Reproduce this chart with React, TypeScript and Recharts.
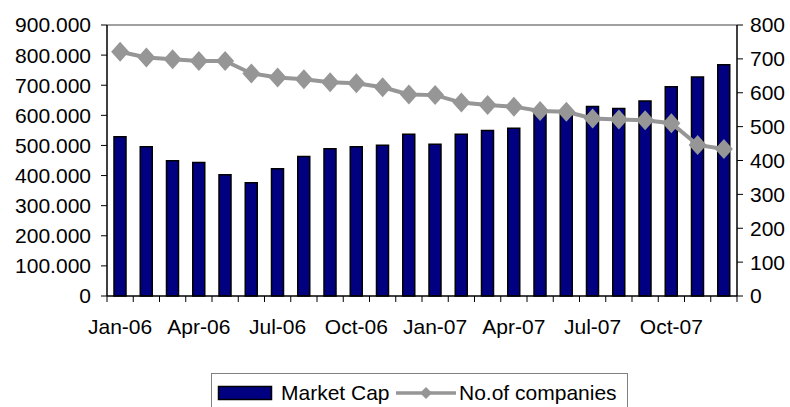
import React from "react";
import {
  ComposedChart,
  Bar,
  Line,
  XAxis,
  YAxis,
  Legend,
  ReferenceLine,
} from "recharts";

const months = [
  "Jan-06", "Feb-06", "Mar-06", "Apr-06", "May-06", "Jun-06",
  "Jul-06", "Aug-06", "Sep-06", "Oct-06", "Nov-06", "Dec-06",
  "Jan-07", "Feb-07", "Mar-07", "Apr-07", "May-07", "Jun-07",
  "Jul-07", "Aug-07", "Sep-07", "Oct-07", "Nov-07", "Dec-07",
];

const marketCap = [
  529, 496, 449, 443, 403, 376, 423, 463, 489, 496, 501, 537,
  504, 537, 550, 557, 605, 615, 629, 623, 648, 695, 727, 768,
];

const companies = [
  721, 704, 699, 694, 694, 657, 645, 640, 631, 628, 616, 595,
  593, 571, 564, 559, 546, 544, 524, 521, 519, 510, 446, 434,
];

const leftTicks = [0, 100, 200, 300, 400, 500, 600, 700, 800, 900];
const rightTicks = [0, 100, 200, 300, 400, 500, 600, 700, 800];

const FONT = "'Liberation Sans', Arial, sans-serif";
const NAVY = "#000080";
const GREY = "#969696";

const data = months.map((m, i) => ({
  month: m,
  marketCap: marketCap[i],
  companies: companies[i],
}));

const W = 790;
const H = 407;
const PLOT_LEFT = 107;
const PLOT_RIGHT = 737;
const BAND = (PLOT_RIGHT - PLOT_LEFT) / months.length;

function MonthTick(props: any) {
  const { x, y, payload } = props;
  const i = payload.index;
  const bx = x - BAND / 2;
  return (
    <g>
      <line x1={bx} y1={y} x2={bx} y2={y + 6} stroke="#000" />
      {i === months.length - 1 && (
        <line x1={x + BAND / 2} y1={y} x2={x + BAND / 2} y2={y + 6} stroke="#000" />
      )}
      {i % 3 === 0 && (
        <text
          x={x}
          y={y + 38}
          textAnchor="middle"
          fontFamily={FONT}
          fontSize={21}
          fill="#000"
        >
          {payload.value}
        </text>
      )}
    </g>
  );
}

const renderDiamond = (props: any) => {
  const { cx, cy, index } = props;
  if (cx == null || cy == null) return <g key={`d-${index}`} />;
  const rx = 9;
  const ry = 10;
  return (
    <polygon
      key={`d-${index}`}
      points={`${cx},${cy - ry} ${cx + rx},${cy} ${cx},${cy + ry} ${cx - rx},${cy}`}
      fill={GREY}
      stroke="none"
    />
  );
};

function ChartLegend() {
  return (
    <div
      style={{
        position: "absolute",
        left: 211,
        top: 373,
        width: 417,
        height: 40,
        boxSizing: "border-box",
        borderTop: "1.5px solid #808080",
        borderLeft: "1.5px solid #808080",
        borderRight: "1.5px solid #808080",
      }}
    >
      <svg width={417} height={40} style={{ position: "absolute", left: 0, top: 0 }}>
        <rect x={6.5} y={12.5} width={53} height={13} fill={NAVY} stroke="#000" strokeWidth={1.5} />
        <text x={69} y={26} fontFamily={FONT} fontSize={21} fill="#000">
          Market Cap
        </text>
        <line x1={184} y1={19} x2={244} y2={19} stroke={GREY} strokeWidth={3.5} />
        <polygon points="214,13 220,19 214,25 208,19" fill={GREY} />
        <text x={247} y={26} fontFamily={FONT} fontSize={21} fill="#000">
          No.of companies
        </text>
      </svg>
    </div>
  );
}

export default function App() {
  return (
    <div style={{ position: "absolute", left: 0, top: 0, width: W, height: H, background: "#fff" }}>
      <ComposedChart
        width={W}
        height={H}
        data={data}
        margin={{ top: 25, right: 0, left: 0, bottom: 0 }}
        barCategoryGap={0}
      >
        <XAxis
          dataKey="month"
          xAxisId="x"
          interval={0}
          height={111}
          axisLine={{ stroke: "#000", strokeWidth: 1.5 }}
          tickLine={false}
          tickSize={0}
          tickMargin={0}
          tick={<MonthTick />}
        />
        <YAxis
          yAxisId="left"
          orientation="left"
          width={PLOT_LEFT}
          domain={[0, 900]}
          ticks={leftTicks}
          interval={0}
          axisLine={{ stroke: "#000", strokeWidth: 1.5 }}
          tickLine={{ stroke: "#000" }}
          tickSize={6}
          tickMargin={10}
          tick={{ fontFamily: FONT, fontSize: 21, fill: "#000" }}
          tickFormatter={(v: number) => (v === 0 ? "0" : v.toFixed(3))}
        />
        <YAxis
          yAxisId="right"
          orientation="right"
          width={W - PLOT_RIGHT}
          domain={[0, 800]}
          ticks={rightTicks}
          interval={0}
          axisLine={{ stroke: "#000", strokeWidth: 1.5 }}
          tickLine={{ stroke: "#000" }}
          tickSize={6}
          tickMargin={7}
          tick={{ fontFamily: FONT, fontSize: 21, fill: "#000", textAnchor: "start" }}
        />
        <ReferenceLine xAxisId="x" yAxisId="left" y={900} stroke="#808080" strokeWidth={1.5} />
        <Bar
          xAxisId="x"
          yAxisId="left"
          dataKey="marketCap"
          name="Market Cap"
          barSize={12}
          fill={NAVY}
          stroke="#000"
          strokeWidth={1.5}
          isAnimationActive={false}
        />
        <Line
          xAxisId="x"
          yAxisId="right"
          dataKey="companies"
          name="No.of companies"
          type="linear"
          stroke={GREY}
          strokeWidth={4}
          dot={renderDiamond}
          activeDot={false}
          isAnimationActive={false}
        />
        <Legend
          content={<ChartLegend />}
          wrapperStyle={{ position: "absolute", left: 0, top: 0, width: 0, height: 0 }}
        />
      </ComposedChart>
    </div>
  );
}
